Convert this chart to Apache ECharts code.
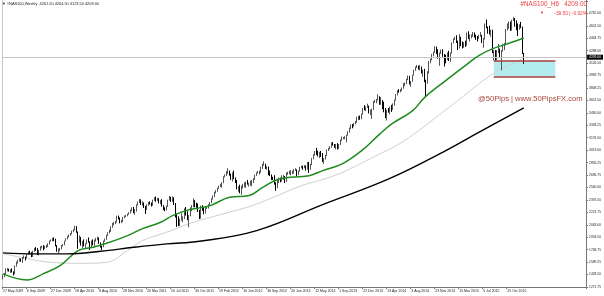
<!DOCTYPE html>
<html><head><meta charset="utf-8">
<script src="https://cdn.jsdelivr.net/npm/echarts@6/dist/echarts.min.js"></script>
<style>html,body{margin:0;padding:0;background:#fff}#c{width:604px;height:296px}</style>
</head><body><div id="c"></div>
<script>
// weekly candles [open, close, low, high]; week 0 = 17 May 2009
const ohlc2009 = [
[1392,1405,1370,1432],[1405,1440,1395,1452],[1440,1495,1436,1512],[1495,1495,1472,1515],[1495,1480,1468,1506],
[1480,1490,1452,1498],[1490,1465,1458,1510],[1465,1440,1420,1472],[1440,1540,1435,1548],[1540,1590,1532,1596],
[1590,1600,1570,1618],[1600,1620,1598,1642],[1620,1610,1595,1636],[1610,1650,1578,1656],[1650,1650,1635,1675],
[1650,1640,1610,1660],[1640,1690,1638,1695],[1690,1720,1684,1728],[1720,1700,1690,1735],[1700,1660,1652,1718],
[1660,1730,1656,1736],[1730,1760,1722,1770],[1760,1750,1734,1782],[1750,1690,1680,1768],[1690,1740,1675,1748],
[1740,1780,1735,1792],[1780,1790,1765,1800],[1790,1770,1740,1806],[1770,1780,1758,1798],[1780,1790,1770,1810],
[1790,1820,1782,1830],[1820,1860,1815,1866],[1860,1860,1852,1880]];
const ohlc2010 = [
[1860,1890,1855,1900],[1890,1870,1858,1905],[1870,1800,1792,1888],[1800,1740,1722,1808],[1740,1740,1700,1765],
[1740,1760,1728,1772],[1760,1800,1752,1808],[1800,1810,1790,1822],[1810,1860,1805,1864],[1860,1890,1856,1896],
[1890,1920,1880,1926],[1920,1930,1905,1942],[1930,1950,1925,1962],[1950,1985,1946,1992],[1985,2005,1972,2012],
[2005,2045,1995,2055],[2045,1970,1965,2050],[1970,1850,1760,1980],[1850,1900,1840,1930],[1900,1820,1800,1912],
[1820,1850,1770,1860],[1850,1800,1790,1880],[1800,1825,1765,1832],[1825,1865,1820,1880],[1865,1850,1838,1905],
[1850,1775,1745,1855],[1775,1860,1770,1866],[1860,1820,1805,1880],[1820,1870,1795,1878],[1870,1880,1852,1900],
[1880,1900,1870,1915],[1900,1830,1822,1906],[1830,1790,1775,1842],[1790,1785,1745,1800],[1785,1860,1780,1866],
[1860,1880,1850,1892],[1880,1930,1875,1938],[1930,1960,1925,1972],[1960,1990,1955,2005],[1990,2040,1975,2048],
[2040,2080,2030,2090],[2080,2090,2060,2104],[2090,2100,2075,2115],[2100,2170,2095,2182],[2170,2150,2135,2185],
[2150,2100,2085,2160],[2100,2120,2090,2130],[2120,2160,2100,2168],[2160,2175,2150,2185],[2175,2185,2165,2195],
[2185,2200,2175,2208],[2200,2220,2195,2228]];
const ohlc2011 = [
[2220,2250,2210,2262],[2250,2280,2240,2290],[2280,2230,2215,2295],[2230,2240,2195,2270],[2240,2320,2235,2328],
[2320,2350,2315,2362],[2350,2380,2345,2395],[2380,2340,2320,2392],[2340,2345,2310,2368],[2345,2300,2282,2352],
[2300,2260,2205,2310],[2260,2320,2255,2328],[2320,2350,2310,2358],[2350,2345,2325,2366],[2345,2330,2300,2352],
[2330,2380,2310,2388],[2380,2410,2372,2420],[2410,2390,2360,2428],[2390,2400,2372,2412],[2400,2360,2340,2405],
[2360,2370,2330,2382],[2370,2310,2300,2394],[2310,2270,2255,2318],[2270,2260,2240,2290],[2260,2300,2250,2312],
[2300,2380,2296,2388],[2380,2420,2375,2436],[2420,2380,2360,2425],[2380,2400,2360,2430],[2400,2330,2320,2418],
[2330,2200,2160,2345],[2200,2150,2040,2210],[2150,2060,2050,2175],[2060,2130,2050,2145],[2130,2150,2120,2215],
[2150,2150,2100,2175],[2150,2270,2140,2278],[2270,2200,2185,2295],[2200,2140,2125,2240],[2140,2180,2035,2190],
[2180,2280,2175,2290],[2280,2310,2240,2320],[2310,2370,2290,2405],[2370,2330,2290,2382],[2330,2320,2285,2350],
[2320,2250,2230,2340],[2250,2150,2140,2258],[2150,2300,2145,2312],[2300,2270,2245,2318],[2270,2220,2200,2282],
[2220,2280,2210,2290],[2280,2280,2270,2300]];
const ohlc2012 = [
[2280,2320,2275,2330],[2320,2350,2310,2358],[2350,2400,2345,2405],[2400,2430,2390,2442],[2430,2480,2420,2488],
[2480,2500,2470,2510],[2500,2530,2490,2540],[2530,2560,2525,2568],[2560,2580,2550,2592],[2580,2600,2540,2610],
[2600,2680,2598,2688],[2680,2700,2672,2712],[2700,2740,2690,2752],[2740,2740,2718,2790],[2740,2710,2695,2760],
[2710,2660,2640,2720],[2660,2730,2620,2738],[2730,2660,2650,2760],[2660,2630,2600,2672],[2630,2530,2520,2640],
[2530,2550,2490,2560],[2550,2480,2470,2580],[2480,2560,2450,2568],[2560,2560,2530,2590],[2560,2570,2545,2610],
[2570,2610,2540,2618],[2610,2590,2580,2640],[2590,2590,2555,2605],[2590,2620,2565,2632],[2620,2630,2560,2640],
[2630,2650,2600,2662],[2650,2700,2640,2708],[2700,2730,2692,2738],[2730,2740,2722,2756],[2740,2750,2710,2760],
[2750,2800,2730,2808],[2800,2830,2780,2845],[2830,2840,2822,2878],[2840,2790,2780,2848],[2790,2800,2770,2820],
[2800,2710,2700,2810],[2710,2700,2690,2760],[2700,2660,2640,2710],[2660,2650,2640,2680],[2650,2600,2580,2700],
[2600,2540,2500,2610],[2540,2630,2535,2638],[2630,2660,2600,2670],[2660,2630,2610,2670],[2630,2660,2620,2700],
[2660,2680,2640,2705],[2680,2620,2600,2690]];
const ohlc2013 = [
[2620,2720,2615,2735],[2720,2730,2705,2745],[2730,2730,2710,2760],[2730,2730,2700,2765],[2730,2740,2715,2758],
[2740,2770,2720,2780],[2770,2770,2755,2790],[2770,2740,2690,2775],[2740,2750,2700,2760],[2750,2800,2745,2808],
[2800,2810,2790,2822],[2810,2800,2770,2822],[2800,2820,2790,2830],[2820,2780,2760,2825],[2780,2860,2775,2870],
[2860,2780,2730,2868],[2780,2840,2770,2846],[2840,2910,2830,2920],[2910,2960,2905,2968],[2960,3000,2950,3010],
[3000,2990,2960,3050],[2990,2960,2940,3015],[2960,2990,2920,3000],[2990,2960,2935,3010],[2960,2880,2870,2985],
[2880,2910,2845,2920],[2910,2950,2900,2960],[2950,3020,2945,3030],[3020,3040,3010,3050],[3040,3060,3030,3072],
[3060,3110,3050,3118],[3110,3090,3080,3125],[3090,3060,3050,3100],[3060,3090,3030,3098],[3090,3040,3030,3110],
[3040,3090,3035,3100],[3090,3150,3085,3158],[3150,3180,3140,3195],[3180,3180,3160,3190],[3180,3190,3160,3200],
[3190,3210,3120,3218],[3210,3250,3205,3262],[3250,3300,3245,3310],[3300,3340,3290,3350],[3340,3330,3300,3355],
[3330,3360,3320,3370],[3360,3380,3350,3395],[3380,3440,3370,3448],[3440,3450,3405,3460],[3450,3420,3410,3462],
[3420,3480,3415,3488],[3480,3550,3475,3560]];
const ohlc2014 = [
[3550,3540,3530,3595],[3540,3570,3520,3580],[3570,3580,3560,3615],[3580,3500,3490,3590],[3500,3500,3470,3540],
[3500,3540,3420,3550],[3540,3640,3535,3648],[3640,3640,3625,3665],[3640,3660,3620,3675],[3660,3690,3655,3735],
[3690,3620,3600,3710],[3620,3630,3600,3700],[3630,3560,3545,3660],[3560,3520,3505,3640],[3520,3440,3430,3560],
[3440,3530,3400,3538],[3530,3520,3500,3560],[3520,3570,3480,3578],[3570,3540,3510,3600],[3540,3610,3535,3618],
[3610,3660,3590,3668],[3660,3730,3655,3738],[3730,3780,3720,3788],[3780,3770,3755,3800],[3770,3790,3760,3800],
[3790,3810,3775,3822],[3810,3870,3805,3878],[3870,3870,3840,3885],[3870,3920,3865,3935],[3920,3950,3915,3975],
[3950,3870,3860,3970],[3870,3900,3830,3905],[3900,3980,3895,3985],[3980,4040,3975,4048],[4040,4080,4035,4090],
[4080,4090,4070,4110],[4090,4070,4050,4100],[4070,4070,4040,4110],[4070,4020,4000,4090],[4020,4030,3960,4050],
[4030,3900,3890,4060],[3900,3880,3700,3920],[3880,4020,3870,4030],[4020,4150,4000,4160],[4150,4180,4130,4190],
[4180,4240,4170,4250],[4240,4270,4220,4280],[4270,4340,4265,4350],[4340,4290,4250,4345],[4290,4200,4190,4310],
[4200,4260,4100,4268],[4260,4290,4250,4305]];
const ohlc2015 = [
[4290,4230,4215,4310],[4230,4220,4090,4250],[4220,4180,4130,4240],[4180,4260,4170,4270],[4260,4180,4160,4290],
[4180,4260,4150,4270],[4260,4390,4255,4398],[4390,4440,4385,4448],[4440,4450,4430,4470],[4450,4400,4390,4490],
[4400,4330,4300,4420],[4330,4460,4320,4505],[4460,4370,4350,4470],[4370,4350,4320,4410],[4350,4390,4330,4400],
[4390,4360,4340,4420],[4360,4510,4355,4525],[4510,4480,4440,4540],[4480,4480,4410,4500],[4480,4480,4450,4500],
[4480,4510,4470,4530],[4510,4480,4460,4525],[4480,4460,4430,4495],[4460,4450,4410,4480],[4450,4480,4440,4495],
[4480,4480,4470,4530],[4480,4420,4390,4495],[4420,4440,4330,4455],[4440,4630,4435,4640],[4630,4590,4580,4690],
[4590,4580,4510,4600],[4580,4520,4500,4610],[4520,4540,4470,4560],[4540,4270,4260,4560],[4270,4290,4170,4300],
[4290,4190,4160,4300],[4190,4280,4170,4300],[4280,4300,4260,4380],[4300,4250,4210,4320],[4250,4290,4040,4300],
[4290,4340,4280,4380],[4340,4370,4300,4390],[4370,4560,4360,4570],[4560,4600,4550,4640],[4600,4650,4570,4665],
[4650,4560,4545,4665],[4560,4680,4550,4690],[4680,4690,4670,4720],[4690,4670,4600,4710],[4670,4580,4555,4680],
[4580,4570,4480,4640],[4570,4620,4560,4630],[4620,4590,4580,4660]];
const ohlc2016 = [[4590,4262,4250,4600],[4261.5,4209,4123.5,4264.5]];

// moving averages: [week index, value]
const maGreen = [[0,1439],[16,1362],[27,1443],[38,1545],[50,1737],[60,1779],[69,1830],[83,1929],[93,2018],[105,2099],[113,2184],[122,2248],[131,2283],[138,2312],[151,2418],[164,2440],[173,2546],[184,2653],[204,2695],[213,2759],[226,2845],[239,3015],[251,3225],[259,3356],[273,3526],[281,3696],[295,3910],[308,4101],[317,4229],[326,4315],[339,4399],[347,4455]];
const maGray = [[0,1699],[12,1651],[32,1587],[54,1575],[69,1587],[83,1737],[93,1865],[109,1971],[125,2088],[145,2197],[166,2312],[182,2433],[199,2568],[215,2657],[228,2753],[251,2973],[264,3101],[277,3271],[290,3462],[303,3654],[317,3867],[328,4016],[339,4123],[347,4200]];
const maBlack = [[0,1708],[21,1695],[43,1695],[65,1728],[87,1779],[109,1823],[131,1856],[169,1993],[213,2325],[257,2653],[295,3015],[317,3249],[347,3561]];

const xLabels = ['17 May 2009','6 Sep 2009','27 Dec 2009','18 Apr 2010','8 Aug 2010','28 Nov 2010','20 Mar 2011','10 Jul 2011','30 Oct 2011','19 Feb 2012','10 Jun 2012','30 Sep 2012','20 Jan 2013','12 May 2013','1 Sep 2013','22 Dec 2013','13 Apr 2014','3 Aug 2014','23 Nov 2014','15 Mar 2015','5 Jul 2015','25 Oct 2015'];
const yLabels = ['1271.75','1428.50','1589.25','1748.75','1903.50','2063.00','2221.75','2376.50','2540.00','2696.75','2856.25','3013.00','3176.50','3333.25','3490.00','3651.50','3808.25','3969.75','4126.50','4288.00','4444.75','4601.50','4762.00'];
const lastPrice = 4209;
const zoneTop = 4165, zoneBottom = 3961, zoneFrom = 327, zoneTo = 368;

const candles = [].concat(ohlc2009, ohlc2010, ohlc2011, ohlc2012, ohlc2013, ohlc2014, ohlc2015, ohlc2016);
const weekCount = 389;
const cats = Array.from({length: weekCount}, (_, i) => String(i));
const yMin = 1271.75, yStep = 1271.75 / 8, yMax = 4940;
const FONT = 'Liberation Sans, Arial, sans-serif';

const chart = echarts.init(document.getElementById('c'), null, {renderer: 'canvas'});
chart.setOption({
  animation: false,
  backgroundColor: '#ffffff',
  title: [
    {text: '\u25BC #NAS100,Weekly  4261.50 4264.50 4123.50 4209.00', left: 2, top: 2, padding: 0,
     textStyle: {fontSize: 3.9, fontWeight: 'normal', color: '#222', fontFamily: FONT}},
    {text: '#NAS100_H6   4209.00', right: 17, top: 1, padding: 0,
     textStyle: {fontSize: 6.3, fontWeight: 'normal', color: '#ee3b3b', fontFamily: FONT}},
    {text: '\u25BC', left: 540, top: 11, padding: 0,
     textStyle: {fontSize: 4, fontWeight: 'normal', color: '#e02020', fontFamily: FONT}},
    {text: '-39.50 | -0.92%', right: 17, top: 11.5, padding: 0,
     textStyle: {fontSize: 4.8, fontWeight: 'normal', color: '#ee3b3b', fontFamily: FONT}},
    {text: '@50Pips | www.50PipsFX.com', left: 478, top: 95, padding: 0,
     textStyle: {fontSize: 7.6, fontWeight: 'normal', color: '#a8443a', fontFamily: FONT}}
  ],
  grid: {left: 0, right: 16, top: 0, bottom: 9},
  xAxis: {
    type: 'category', data: cats, boundaryGap: true,
    axisLine: {show: true, lineStyle: {color: '#777', width: 1}},
    axisTick: {show: true, length: 2, lineStyle: {color: '#777'},
      interval: (i) => i % 16 === 0 && i / 16 < xLabels.length},
    axisLabel: {show: true, fontSize: 3.5, color: '#222', fontFamily: FONT, margin: 2, align: 'left',
      interval: (i) => i % 16 === 0 && i / 16 < xLabels.length,
      formatter: (v, i) => (i % 16 === 0 && xLabels[i / 16]) ? xLabels[i / 16] : ''},
    splitLine: {show: false}
  },
  yAxis: [
    {type: 'value', position: 'right', min: yMin, max: yMax, interval: yStep, scale: true,
     axisLine: {show: true, lineStyle: {color: '#777', width: 1}},
     axisTick: {show: true, length: 2, lineStyle: {color: '#777'}},
     axisLabel: {show: true, fontSize: 3.3, color: '#222', fontFamily: FONT, margin: 3, showMaxLabel: false,
       formatter: (v) => { const k = Math.round((v - yMin) / yStep); return yLabels[k] || ''; }},
     splitLine: {show: false}},
    {type: 'value', position: 'left', min: yMin, max: yMax, interval: yStep, scale: true,
     axisLine: {show: true, onZero: false, lineStyle: {color: '#c8c8c8', width: 1}},
     axisTick: {show: false}, axisLabel: {show: false}, splitLine: {show: false}}
  ],
  series: [
    {name: 'ma100', type: 'line', data: maGray, smooth: 0.4, symbol: 'none', z: 2,
     lineStyle: {color: '#cfcfcf', width: 1}},
    {name: 'zone', type: 'line', data: [], z: 3, symbol: 'none',
     markArea: {silent: true, itemStyle: {color: '#b2ecef'},
       data: [[{coord: [zoneFrom, zoneTop]}, {coord: [zoneTo, zoneBottom]}]]},
     markLine: {silent: true, symbol: 'none', animation: false,
       data: [
         [{coord: [zoneFrom, zoneTop]}, {coord: [zoneTo, zoneTop]}],
         [{coord: [zoneFrom, zoneBottom]}, {coord: [zoneTo, zoneBottom]}]
       ],
       lineStyle: {color: '#a8403a', width: 1.5, type: 'solid'}, label: {show: false}}},
    {name: 'price', type: 'candlestick', data: candles, z: 4, barWidth: 1,
     itemStyle: {color: '#8a8a8a', color0: '#000000', borderColor: '#555555', borderColor0: '#000000', borderWidth: 1},
     markLine: {silent: true, symbol: 'none', animation: false,
       data: [{yAxis: lastPrice}],
       lineStyle: {color: '#c4c4c4', width: 1, type: 'solid'},
       label: {show: true, position: 'end', formatter: '4209.00', color: '#fff', backgroundColor: '#000',
         fontSize: 3.3, fontFamily: FONT, padding: [1, 2, 1, 2], distance: 1}}},
    {name: 'ma50', type: 'line', data: maGreen, smooth: 0.4, symbol: 'none', z: 5,
     lineStyle: {color: '#1f8a1f', width: 1.5}},
    {name: 'ma200', type: 'line', data: maBlack, smooth: 0.4, symbol: 'none', z: 5,
     lineStyle: {color: '#000000', width: 1.4}}
  ]
});
</script></body></html>
